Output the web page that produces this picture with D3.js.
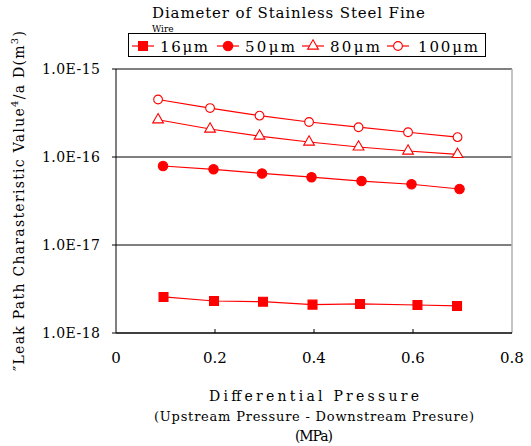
<!DOCTYPE html>
<html>
<head>
<meta charset="utf-8">
<script src="https://d3js.org/d3.v7.min.js"></script>
<style>
  body { margin: 0; background: #fff; }
</style>
</head>
<body>
<div id="chart"></div>
<script>
// series
const series = ["16μm", "50μm", "80μm", "100μm"];
const xs16 = [0.096, 0.198, 0.297, 0.397, 0.493, 0.609, 0.689];
const v16 = [2.57e-18, 2.31e-18, 2.27e-18, 2.10e-18, 2.14e-18, 2.08e-18, 2.03e-18];
const xs50 = [0.095, 0.197, 0.295, 0.395, 0.496, 0.597, 0.694];
const v50 = [7.9e-17, 7.25e-17, 6.5e-17, 5.9e-17, 5.33e-17, 4.9e-17, 4.33e-17];
const xs80 = [0.085, 0.19, 0.29, 0.39, 0.49, 0.59, 0.69];
const v80 = [2.65e-16, 2.08e-16, 1.73e-16, 1.48e-16, 1.30e-16, 1.17e-16, 1.07e-16];
const xs100 = [0.085, 0.19, 0.29, 0.39, 0.49, 0.59, 0.69];
const v100 = [4.5e-16, 3.6e-16, 2.95e-16, 2.5e-16, 2.18e-16, 1.91e-16, 1.68e-16];
const xTicks = [0, 0.2, 0.4, 0.6, 0.8];
const yTicks = [1e-18, 1e-17, 1e-16, 1e-15];
const yTickLabels = ["1.0E-18", "1.0E-17", "1.0E-16", "1.0E-15"];

const FONT = "'DejaVu Serif', serif";
const width = 531, height = 446;
const svg = d3.select("#chart").append("svg")
  .attr("width", width).attr("height", height)
  .attr("font-family", FONT);

const x = d3.scaleLinear().domain([0, 0.8]).range([116, 512]);
const y = d3.scaleLog().domain([1e-18, 1e-15]).range([333, 69]);

// gridlines at each decade
svg.append("g").selectAll("line").data(yTicks.slice(1)).join("line")
  .attr("x1", x(0) - 4).attr("x2", x(0.8))
  .attr("y1", d => y(d)).attr("y2", d => y(d))
  .attr("stroke", "#000").attr("stroke-width", 1);
svg.append("line").attr("x1", x(0) - 4).attr("x2", x(0))
  .attr("y1", y(1e-18)).attr("y2", y(1e-18)).attr("stroke", "#000");

// right border (grey) and axes
svg.append("line").attr("x1", x(0.8)).attr("x2", x(0.8))
  .attr("y1", y(1e-15)).attr("y2", y(1e-18))
  .attr("stroke", "#b0b0b0").attr("stroke-width", 1.5);
svg.append("line").attr("x1", x(0)).attr("x2", x(0))
  .attr("y1", y(1e-15)).attr("y2", y(1e-18)).attr("stroke", "#000");
svg.append("line").attr("x1", x(0)).attr("x2", x(0.8))
  .attr("y1", y(1e-18)).attr("y2", y(1e-18)).attr("stroke", "#000").attr("stroke-width", 1.3);

// x ticks (inward)
svg.append("g").selectAll("line").data(xTicks.slice(1, 4)).join("line")
  .attr("x1", d => x(d)).attr("x2", d => x(d))
  .attr("y1", y(1e-18)).attr("y2", y(1e-18) - 4)
  .attr("stroke", "#000");

svg.append("g").selectAll("text").data(xTicks).join("text")
  .attr("x", d => x(d)).attr("y", 363)
  .attr("text-anchor", "middle").attr("font-size", 15)
  .text(d => d === 0 ? "0" : d.toFixed(1));

svg.append("g").selectAll("text").data(yTicks).join("text")
  .attr("x", 100).attr("y", d => y(d) + 5)
  .attr("text-anchor", "end").attr("font-size", 14)
  .attr("textLength", 58).attr("lengthAdjust", "spacing")
  .text((d, i) => yTickLabels[i]);

// axis titles
const xt = [["Differential Pressure", 210, 401, 14], ["(Upstream Pressure - Downstream Presure)", 320, 421, 13], ["(MPa)", 38, 441, 14]];
xt.forEach(t => {
  svg.append("text").attr("x", 314).attr("y", t[2])
    .attr("text-anchor", "middle").attr("font-size", t[3])
    .attr("textLength", t[1]).attr("lengthAdjust", "spacing")
    .text(t[0]);
});

const yl = svg.append("text")
  .attr("transform", "translate(24,371) rotate(-90)")
  .attr("font-size", 14)
  .attr("textLength", 340).attr("lengthAdjust", "spacing");
yl.append("tspan").text("″Leak Path Charasteristic Value");
yl.append("tspan").attr("dy", -6).attr("font-size", 10).text("4");
yl.append("tspan").attr("dy", 6).text("/a D(m");
yl.append("tspan").attr("dy", -6).attr("font-size", 10).text("3");
yl.append("tspan").attr("dy", 6).text(")");

// title; second line squeezed above the legend box
svg.append("text").attr("x", 152).attr("y", 18)
  .attr("font-size", 15).attr("textLength", 273).attr("lengthAdjust", "spacing")
  .text("Diameter of Stainless Steel Fine");
svg.append("text").attr("x", 152).attr("y", 32)
  .attr("font-size", 9).text("Wire");

// series lines + markers
const red = "#ff0000";
const all = [
  {xs: xs16, v: v16, sym: d3.symbolSquare, fill: red, size: 80},
  {xs: xs50, v: v50, sym: d3.symbolCircle, fill: red, size: 70},
  {xs: xs80, v: v80, sym: d3.symbolTriangle, fill: "#fff", size: 50},
  {xs: xs100, v: v100, sym: d3.symbolCircle, fill: "#fff", size: 60}
];
const line = d3.line().x(d => x(d[0])).y(d => y(d[1]));
all.forEach(s => {
  const pts = s.xs.map((d, i) => [d, s.v[i]]);
  svg.append("path").datum(pts).attr("d", line)
    .attr("fill", "none").attr("stroke", red).attr("stroke-width", 1.2);
  svg.append("g").selectAll("path").data(pts).join("path")
    .attr("transform", d => `translate(${x(d[0])},${y(d[1])})`)
    .attr("d", d3.symbol().type(s.sym).size(s.size))
    .attr("fill", s.fill).attr("stroke", red).attr("stroke-width", 1.1);
});

// legend
const lg = svg.append("g");
lg.append("rect").attr("x", 128.5).attr("y", 33.5).attr("width", 357).attr("height", 23)
  .attr("fill", "#fff").attr("stroke", "#000");
const lx = [143, 228, 313, 398];
const lw = [48, 50, 50, 60];
series.forEach((name, i) => {
  const s = all[i];
  lg.append("line").attr("x1", lx[i] - 11).attr("x2", lx[i] + 11)
    .attr("y1", 46).attr("y2", 46).attr("stroke", red).attr("stroke-width", 1.2);
  lg.append("path").attr("transform", `translate(${lx[i]},46)`)
    .attr("d", d3.symbol().type(s.sym).size(s.size))
    .attr("fill", s.fill).attr("stroke", red).attr("stroke-width", 1.1);
  lg.append("text").attr("x", lx[i] + (i === 3 ? 20 : 17)).attr("y", 52)
    .attr("font-size", 15).attr("textLength", lw[i]).attr("lengthAdjust", "spacing")
    .text(name);
});
</script>
</body>
</html>
